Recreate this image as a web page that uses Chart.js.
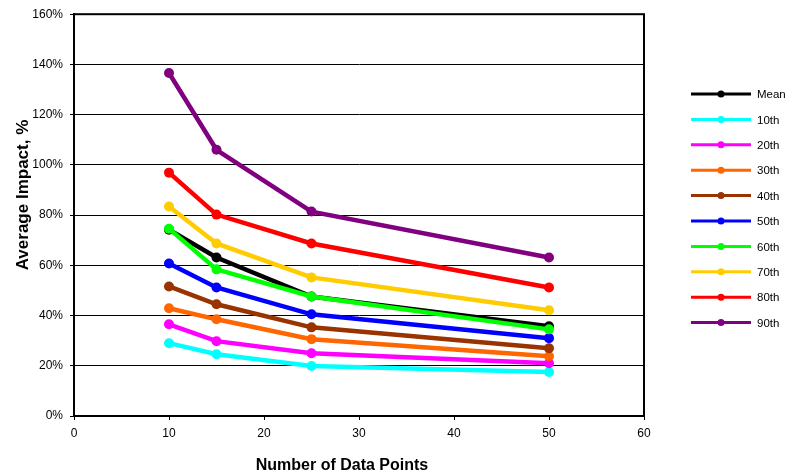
<!DOCTYPE html>
<html>
<head>
<meta charset="utf-8">
<script src="https://cdn.jsdelivr.net/npm/chart.js@4/dist/chart.umd.min.js"></script>
<style>
  html, body { margin: 0; padding: 0; background: #fff; }
  #wrap { width: 790px; height: 474px; position: relative; }
</style>
</head>
<body>
<div id="wrap"><canvas id="impactChart"></canvas></div>
<script>
// Número de puntos de datos (eje X)
const dataPoints = [10, 15, 25, 50];

// Series (% de impacto medio)
const seriesNames = ['Mean', '10th', '20th', '30th', '40th', '50th', '60th', '70th', '80th', '90th'];
const meanValues = [74.2, 63.1, 47.6, 35.7];
const p10Values = [29.0, 24.6, 19.9, 17.5];
const p20Values = [36.5, 29.8, 25.0, 21.0];
const p30Values = [42.9, 38.5, 30.6, 23.8];
const p40Values = [51.6, 44.5, 35.3, 27.0];
const p50Values = [60.7, 51.2, 40.5, 31.0];
const p60Values = [74.6, 58.4, 47.6, 34.5];
const p70Values = [83.4, 68.7, 55.2, 42.1];
const p80Values = [96.9, 80.2, 68.7, 51.2];
const p90Values = [136.6, 106.0, 81.4, 63.1];
const seriesColors = ['#000000', '#00ffff', '#ff00ff', '#ff6600', '#993300', '#0000ff', '#00ff00', '#ffcc00', '#ff0000', '#800080'];

const allValues = [meanValues, p10Values, p20Values, p30Values, p40Values, p50Values, p60Values, p70Values, p80Values, p90Values];

const yTitle = 'Average Impact, %';
const xTitle = 'Number of Data Points';

const FONT = '"Liberation Sans", Arial, sans-serif';

// Leyenda dibujada a mano, títulos de ejes y marco
const extras = {
    id: 'extras',
    afterDraw(chart) {
        const ctx = chart.ctx;
        ctx.save();
        chart.data.datasets.forEach((ds, i) => {
            const y = 94 + i * 25.4;
            ctx.strokeStyle = ds.borderColor;
            ctx.lineWidth = 3;
            ctx.beginPath();
            ctx.moveTo(691, y);
            ctx.lineTo(751, y);
            ctx.stroke();
            ctx.fillStyle = ds.borderColor;
            ctx.beginPath();
            ctx.arc(721, y, 3.5, 0, Math.PI * 2);
            ctx.fill();
            ctx.fillStyle = '#000';
            ctx.font = '11.5px ' + FONT;
            ctx.textBaseline = 'middle';
            ctx.textAlign = 'left';
            ctx.fillText(ds.label, 757, y + 1);
        });

        ctx.fillStyle = '#000';
        ctx.textAlign = 'center';
        ctx.textBaseline = 'middle';

        // Título del eje X
        ctx.font = 'bold 16px ' + FONT;
        ctx.fillText(xTitle, 342, 466);

        // Título del eje Y
        ctx.save();
        ctx.translate(23, 195);
        ctx.rotate(-Math.PI / 2);
        ctx.font = 'bold 17px ' + FONT;
        ctx.fillText(yTitle, 0, 0);
        ctx.restore();

        // Marco del área de trazado
        const a = chart.chartArea;
        ctx.strokeStyle = '#000';
        ctx.lineWidth = 2;
        ctx.strokeRect(a.left, a.top, a.right - a.left, a.bottom - a.top);
        ctx.restore();
    }
};

function main() {
    const ctx = document.getElementById('impactChart').getContext('2d');
    const datasets = seriesNames.map((name, i) => ({
        label: name,
        data: dataPoints.map((x, j) => ({ x: x, y: allValues[i][j] })),
        borderColor: seriesColors[i],
        backgroundColor: seriesColors[i],
        borderWidth: 4.5,
        pointRadius: 5,
        pointHoverRadius: 5,
        pointBorderWidth: 0,
        tension: 0,
        order: -i
    }));

    new Chart(ctx, {
        type: 'line',
        data: { datasets },
        plugins: [extras],
        options: {
            responsive: true,
            maintainAspectRatio: false,
            animation: false,
            layout: { padding: { top: 14, right: 146, left: 0, bottom: 0 } },
            plugins: {
                legend: { display: false },
                tooltip: { enabled: false }
            },
            scales: {
                x: {
                    type: 'linear',
                    min: 0,
                    max: 60,
                    ticks: { stepSize: 10, color: '#000', font: { family: FONT, size: 12 }, padding: 6 },
                    grid: { display: true, drawOnChartArea: false, drawTicks: true, tickLength: 4, color: '#000' },
                    border: { display: true, color: '#000', width: 2 },
                    afterFit(scale) { scale.height = 58; }
                },
                y: {
                    min: 0,
                    max: 160,
                    ticks: {
                        stepSize: 20,
                        color: '#000',
                        font: { family: FONT, size: 12 },
                        padding: 7,
                        callback: v => v + '%'
                    },
                    grid: { color: '#000', lineWidth: 1, tickLength: 4, tickColor: '#000' },
                    border: { display: true, color: '#000', width: 2 },
                    afterFit(scale) { scale.width = 74; }
                }
            }
        }
    });
}

main();
</script>
</body>
</html>
